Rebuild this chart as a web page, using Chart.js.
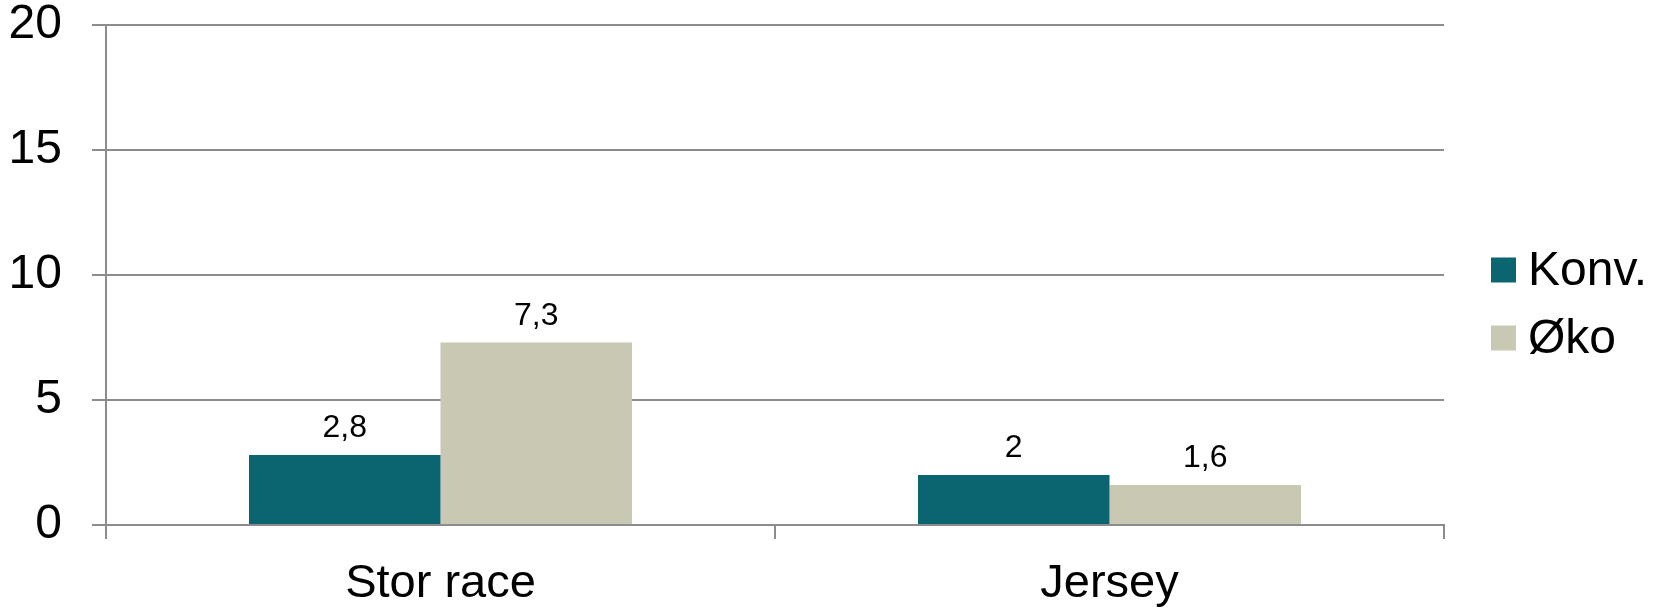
<!DOCTYPE html>
<html>
<head>
<meta charset="utf-8">
<script src="https://cdn.jsdelivr.net/npm/chart.js@4.4.1/dist/chart.umd.min.js"></script>
<style>
  html, body { margin: 0; padding: 0; background: #fff; }
  #wrap { width: 1665px; height: 608px; position: relative; }
</style>
</head>
<body>
<div id="wrap"><canvas id="chart"></canvas></div>
<script>
// Data
const categories = ['Stor race', 'Jersey'];
const konvValues = [2.8, 2.0];
const okoValues = [7.3, 1.6];
const seriesLabels = ['Konv.', 'Øko'];
const yTicks = [0, 5, 10, 15, 20];

const FONT = '"Liberation Sans", Arial, sans-serif';
const GRID = '#8c8c8c';
const colors = ['#0a6571', '#c8c8b3'];

const fmt = v => String(v).replace('.', ',');

// value labels above bars
const valueLabels = {
  id: 'valueLabels',
  afterDatasetsDraw(chart) {
    const ctx = chart.ctx;
    ctx.save();
    ctx.font = '32px ' + FONT;
    ctx.fillStyle = '#000';
    ctx.textAlign = 'center';
    ctx.textBaseline = 'alphabetic';
    chart.data.datasets.forEach((ds, di) => {
      chart.getDatasetMeta(di).data.forEach((bar, i) => {
        ctx.fillText(fmt(ds.data[i]), bar.x, bar.y - 18);
      });
    });
    ctx.restore();
  }
};

// legend on the right, drawn from the datasets
const sideLegend = {
  id: 'sideLegend',
  afterDraw(chart) {
    const ctx = chart.ctx;
    const x = chart.chartArea.right + 47;
    const mid = chart.height / 2;
    ctx.save();
    ctx.font = '48px ' + FONT;
    ctx.textBaseline = 'middle';
    ctx.textAlign = 'left';
    chart.data.datasets.forEach((ds, i) => {
      const cy = mid + (i - 0.5) * 68;
      ctx.fillStyle = ds.backgroundColor;
      ctx.fillRect(x, cy - 12.5, 25, 25);
      ctx.fillStyle = '#000';
      ctx.fillText(ds.label, x + 37, cy + 2);
    });
    ctx.restore();
  }
};

new Chart(document.getElementById('chart'), {
  type: 'bar',
  data: {
    labels: categories,
    datasets: [
      { label: seriesLabels[0], data: konvValues, backgroundColor: colors[0] },
      { label: seriesLabels[1], data: okoValues, backgroundColor: colors[1] }
    ]
  },
  options: {
    responsive: true,
    maintainAspectRatio: false,
    animation: false,
    categoryPercentage: 0.5725,
    barPercentage: 1.0,
    layout: { padding: { top: 25, right: 221, bottom: 0, left: 0 } },
    plugins: {
      legend: { display: false },
      tooltip: { enabled: false }
    },
    scales: {
      x: {
        grid: {
          offset: true,
          drawOnChartArea: false,
          drawTicks: true,
          tickLength: 14,
          color: GRID,
          lineWidth: 2
        },
        border: { display: true, color: GRID, width: 2 },
        ticks: {
          color: '#000',
          padding: 17,
          font: { family: FONT, size: 47, lineHeight: 1.2 }
        },
        afterFit: axis => { axis.height = 83; }
      },
      y: {
        min: 0,
        max: 20,
        afterBuildTicks: axis => { axis.ticks = yTicks.map(v => ({ value: v })); },
        grid: {
          drawTicks: true,
          tickLength: 14,
          color: GRID,
          lineWidth: 2
        },
        border: { display: true, color: GRID, width: 2 },
        ticks: {
          color: '#000',
          padding: 30,
          font: { family: FONT, size: 48, lineHeight: 1 }
        },
        afterFit: axis => { axis.width = 106; axis.paddingTop = 0; axis.paddingBottom = 0; }
      }
    }
  },
  plugins: [valueLabels, sideLegend]
});
</script>
</body>
</html>
